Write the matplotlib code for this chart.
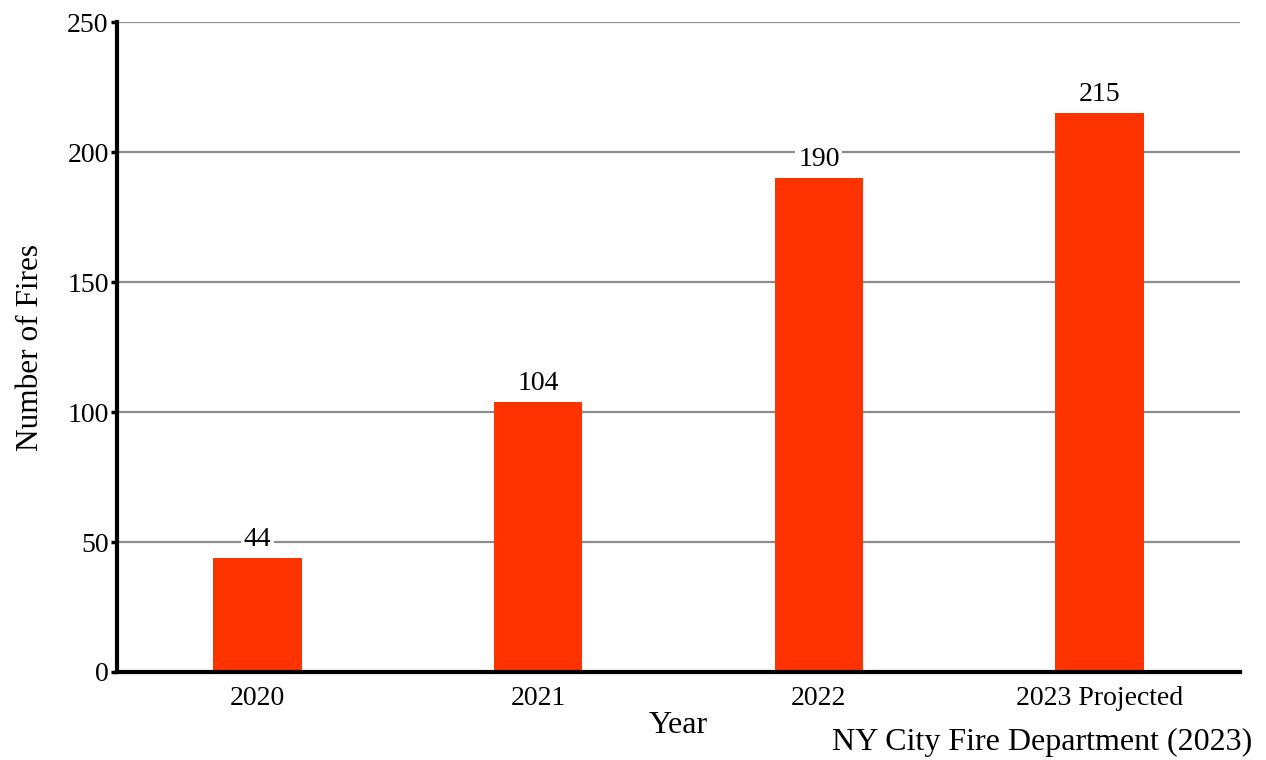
import matplotlib.pyplot as plt

# data
years = ['2020', '2021', '2022', '2023 Projected']
fires = [44, 104, 190, 215]

plt.rcParams['font.family'] = ['Liberation Serif', 'DejaVu Serif']

fig = plt.figure(figsize=(12.66, 7.6), dpi=100)
ax = fig.add_axes([0.0924, 0.1158, 0.8871, 0.8552])

x = list(range(len(years)))
ax.bar(x, fires, width=0.315, color='#FF3300', zorder=2)

ax.set_xlim(-0.5, 3.5)
ax.set_ylim(0, 250)
ax.set_yticks([0, 50, 100, 150, 200, 250])
ax.set_xticks(x)
ax.set_xticklabels(years)
ax.tick_params(axis='x', length=0, labelsize=20, pad=10)
ax.tick_params(axis='y', length=4, width=2.5, labelsize=20, pad=2)

ax.grid(axis='y', color='#8c8c8c', linewidth=1.6, zorder=0)
ax.set_axisbelow(True)

for s in ['top', 'right']:
    ax.spines[s].set_visible(False)
ax.spines['left'].set_linewidth(3)
ax.spines['bottom'].set_linewidth(3)

# value labels, white box hides the gridline behind
for xi, v in zip(x, fires):
    ax.annotate(str(v), (xi, v), xytext=(0, 4), textcoords='offset points',
                ha='center', va='bottom', fontsize=20, zorder=3,
                bbox=dict(facecolor='white', edgecolor='none', pad=2))

ax.set_xlabel('Year', fontsize=23, labelpad=0)
ax.set_ylabel('Number of Fires', fontsize=22.5, labelpad=16)

fig.text(0.989, 0.013, 'NY City Fire Department (2023)', ha='right', va='baseline', fontsize=23)

plt.savefig('out.png', dpi=100)
